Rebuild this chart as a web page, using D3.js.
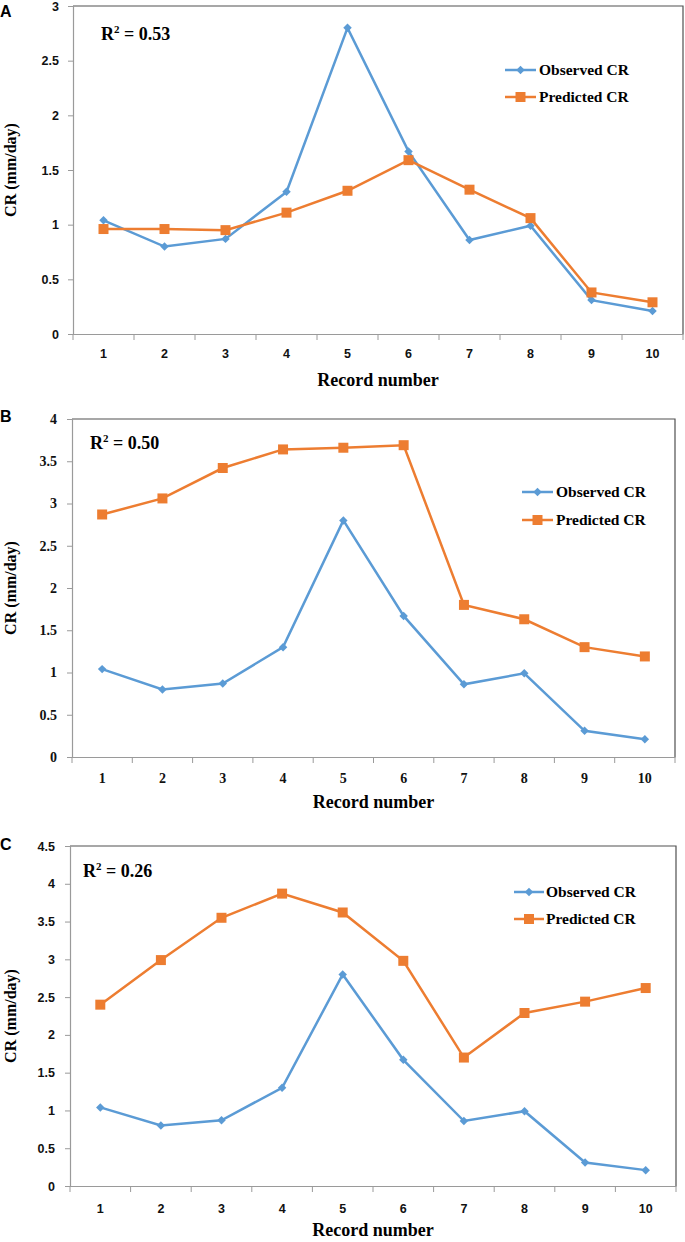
<!DOCTYPE html>
<html>
<head>
<meta charset="utf-8">
<script src="https://cdn.jsdelivr.net/npm/d3@7"></script>
<style>
  html, body { margin: 0; padding: 0; background: #fff; }
  svg { display: block; }
</style>
</head>
<body>
<svg id="chart" width="685" height="1242"></svg>
<script>
// ---------------- DATA ----------------
const categories = ["1", "2", "3", "4", "5", "6", "7", "8", "9", "10"];
const seriesNames = ["Observed CR", "Predicted CR"];
const observedCR = [1.04, 0.80, 0.87, 1.30, 2.80, 1.67, 0.86, 0.99, 0.31, 0.21];
const predictedA = [0.96, 0.96, 0.95, 1.11, 1.31, 1.59, 1.32, 1.06, 0.38, 0.29];
const predictedB = [2.87, 3.06, 3.42, 3.64, 3.66, 3.69, 1.80, 1.63, 1.30, 1.19];
const predictedC = [2.40, 2.99, 3.55, 3.87, 3.62, 2.98, 1.70, 2.29, 2.44, 2.62];
const yTicksA = [0, 0.5, 1, 1.5, 2, 2.5, 3];
const yTicksB = [0, 0.5, 1, 1.5, 2, 2.5, 3, 3.5, 4];
const yTicksC = [0, 0.5, 1, 1.5, 2, 2.5, 3, 3.5, 4, 4.5];
const panelLetters = ["A", "B", "C"];
const r2Values = ["0.53", "0.50", "0.26"];
const xTitle = "Record number";
const yTitle = "CR (mm/day)";

// ---------------- LAYOUT / STYLE ----------------
const BLUE = "#5b9bd5", ORANGE = "#ed7d31";
const SANS = "'Liberation Sans', Arial, sans-serif";
const SERIF = "'Liberation Serif', 'Times New Roman', serif";

const panels = [
  { letter: panelLetters[0], r2: r2Values[0], pred: predictedA, ticks: yTicksA,
    left: 73, right: 683, top: 6, bottom: 334, tickFont: SANS, tickSize: 12.5, labelRight: 59,
    letterY: 17, r2X: 101, r2Y: 40, legX1: 505, legX2: 536, legTX: 539, legY: [70, 97],
    xLabY: 358, xTitleY: 386 },
  { letter: panelLetters[1], r2: r2Values[1], pred: predictedB, ticks: yTicksB,
    left: 72, right: 675, top: 419, bottom: 757, tickFont: SERIF, tickSize: 14, labelRight: 57,
    letterY: 422, r2X: 90, r2Y: 449, legX1: 522, legX2: 553, legTX: 556, legY: [492, 520],
    xLabY: 783, xTitleY: 808 },
  { letter: panelLetters[2], r2: r2Values[2], pred: predictedC, ticks: yTicksC,
    left: 70, right: 676, top: 846, bottom: 1186, tickFont: SANS, tickSize: 12.5, labelRight: 55,
    letterY: 850, r2X: 83, r2Y: 877, legX1: 514, legX2: 544, legTX: 546, legY: [892, 919],
    xLabY: 1213, xTitleY: 1236 }
];

const svg = d3.select("#chart");
const fmt = d3.format("~g");

function marker(g, type, color, x, y) {
  if (type === "diamond") {
    g.append("path")
      .attr("d", d3.symbol(d3.symbolSquare, 36)())
      .attr("transform", `translate(${x},${y}) rotate(45)`)
      .attr("fill", color);
  } else {
    g.append("path")
      .attr("d", d3.symbol(d3.symbolSquare, 100)())
      .attr("transform", `translate(${x},${y})`)
      .attr("fill", color);
  }
}

panels.forEach(p => {
  const g = svg.append("g");
  const x = d3.scaleBand().domain(categories).range([p.left, p.right]);
  const y = d3.scaleLinear().domain([0, d3.max(p.ticks)]).range([p.bottom, p.top]);
  const cx = c => x(c) + x.bandwidth() / 2;

  // plot area border (top & right)
  g.append("path")
    .attr("d", `M${p.left},${p.top}H${p.right}V${p.bottom}`)
    .attr("fill", "none").attr("stroke", "#505050").attr("stroke-width", 1.2);

  // y axis
  const yAxis = d3.axisLeft(y).tickValues(p.ticks).tickFormat(fmt).tickSize(5)
    .tickPadding(p.left - 5 - p.labelRight);
  const ya = g.append("g").attr("transform", `translate(${p.left},0)`).call(yAxis);
  ya.select(".domain").attr("stroke", "#9a9a9a").attr("stroke-width", 1.2);
  ya.selectAll(".tick line").attr("stroke", "#9a9a9a");
  ya.selectAll(".tick text")
    .attr("font-family", p.tickFont).attr("font-weight", "bold")
    .attr("font-size", p.tickSize).attr("fill", "#111");

  // x axis: labels
  const xAxis = d3.axisBottom(x).tickSize(0).tickPadding(0);
  const xa = g.append("g").attr("transform", `translate(0,${p.bottom})`).call(xAxis);
  xa.select(".domain").attr("stroke", "#9a9a9a").attr("stroke-width", 1.2);
  xa.selectAll(".tick text")
    .attr("y", p.xLabY - p.bottom).attr("dy", 0)
    .attr("font-family", p.tickFont).attr("font-weight", "bold")
    .attr("font-size", p.tickSize).attr("fill", "#111");
  // x tick marks at category boundaries
  const bounds = categories.map(c => x(c)).concat([p.right]);
  g.selectAll(null).data(bounds).enter().append("line")
    .attr("x1", d => d).attr("x2", d => d)
    .attr("y1", p.bottom).attr("y2", p.bottom + 6)
    .attr("stroke", "#9a9a9a").attr("stroke-width", 1);

  // lines
  const line = d3.line().x((d, i) => cx(categories[i])).y(d => y(d));
  g.append("path").datum(observedCR).attr("d", line)
    .attr("fill", "none").attr("stroke", BLUE).attr("stroke-width", 2.5);
  g.append("path").datum(p.pred).attr("d", line)
    .attr("fill", "none").attr("stroke", ORANGE).attr("stroke-width", 2.5);
  observedCR.forEach((v, i) => marker(g, "diamond", BLUE, cx(categories[i]), y(v)));
  p.pred.forEach((v, i) => marker(g, "square", ORANGE, cx(categories[i]), y(v)));

  // panel letter
  g.append("text").attr("x", 0).attr("y", p.letterY).text(p.letter)
    .attr("font-family", SANS).attr("font-weight", "bold").attr("font-size", 16).attr("fill", "#000");

  // R^2
  const r = g.append("text").attr("x", p.r2X).attr("y", p.r2Y)
    .attr("font-family", SERIF).attr("font-weight", "bold").attr("font-size", 18).attr("fill", "#000");
  r.append("tspan").text("R");
  r.append("tspan").attr("font-size", 11).attr("dy", -7).text("2");
  r.append("tspan").attr("dy", 7).text(" = " + p.r2);

  // legend
  [[BLUE, "diamond"], [ORANGE, "square"]].forEach(([col, type], i) => {
    const ly = p.legY[i];
    g.append("line").attr("x1", p.legX1).attr("x2", p.legX2).attr("y1", ly).attr("y2", ly)
      .attr("stroke", col).attr("stroke-width", 2.5);
    marker(g, type, col, (p.legX1 + p.legX2) / 2, ly);
    g.append("text").attr("x", p.legTX).attr("y", ly).attr("dy", "0.35em")
      .text(seriesNames[i])
      .attr("font-family", SERIF).attr("font-weight", "bold").attr("font-size", 15.5).attr("fill", "#000");
  });

  // axis titles
  g.append("text").attr("x", (p.left + p.right) / 2).attr("y", p.xTitleY)
    .attr("text-anchor", "middle").text(xTitle)
    .attr("font-family", SERIF).attr("font-weight", "bold").attr("font-size", 18).attr("fill", "#000");
  g.append("text")
    .attr("transform", `translate(16,${(p.top + p.bottom) / 2}) rotate(-90)`)
    .attr("text-anchor", "middle").text(yTitle)
    .attr("font-family", SERIF).attr("font-weight", "bold").attr("font-size", 16).attr("fill", "#000");
});
</script>
</body>
</html>
